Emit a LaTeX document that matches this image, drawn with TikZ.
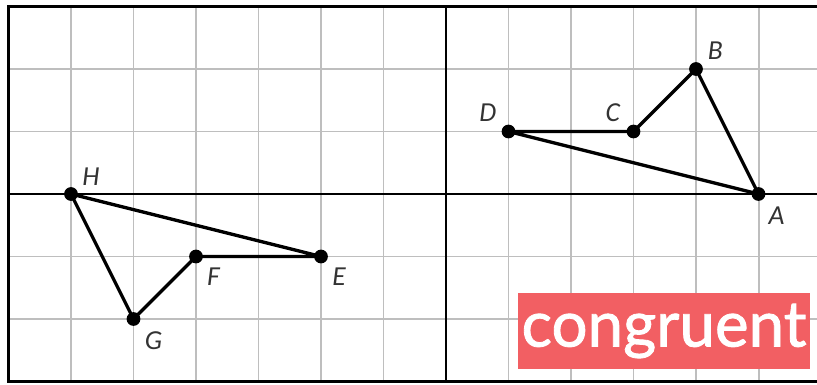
\documentclass[tikz,border=0pt]{standalone}
\usepackage{fontspec}
\usepackage{tikz}
\usetikzlibrary{calc,positioning}
\newfontfamily\ptfont{Carlito}
\newfontfamily\tagfont[FakeBold=1.3]{Lato}
\definecolor{tagred}{HTML}{F25F63}
\definecolor{gridgray}{HTML}{BEBEBE}
\tikzset{
  gridline/.style={draw=gridgray, line width=0.9pt},
  axis/.style={draw=black, line width=1.1pt},
  frame/.style={draw=black, line width=1.3pt},
  side/.style={line width=1.5pt, line join=round},
  pt/.style={
    circle,
    fill=black,
    minimum size=2.2mm,
    inner sep=0pt,
  },
  ptlabel/.style={
    font=\ptfont\itshape\fontsize{12.5}{12.5}\selectfont,
    text=black!80,
    inner sep=0pt,
  },
  tag/.style={
    fill=tagred,
    text=white,
    minimum width=4.67cm,
    minimum height=1.216cm,
    inner sep=0pt,
    font=\tagfont\fontsize{29}{29}\selectfont,
  },
}
\begin{document}
\begin{tikzpicture}
  \useasboundingbox (-7.136,-3.056) rectangle (5.936,3.104);
  \clip (-7.136,-3.056) rectangle (5.936,3.104);
  \draw[gridline] (-7,-3) grid (6,3);
  \draw[axis] (-7,0) -- (6,0);
  \draw[axis] (0,-3) -- (0,3);
  \draw[frame] (-7,-3) rectangle (6,3);
  % vertices
  \foreach \n/\x/\y/\dx/\dy in {A/5/0/0.29/-0.34, B/4/2/0.31/0.3, C/3/1/-0.33/0.3, D/1/1/-0.33/0.3,
                              E/-2/-1/0.29/-0.33, F/-4/-1/0.28/-0.32, G/-5/-2/0.32/-0.34, H/-6/0/0.32/0.28} {
    \node[pt] (\n) at (\x,\y) {};
    \node[ptlabel] (lab\n) at ($(\n)+(\dx,\dy)$) {\n};
  }
  \draw[side] (A.center) -- (B.center) -- (C.center) -- (D.center) -- cycle;
  \draw[side] (E.center) -- (F.center) -- (G.center) -- (H.center) -- cycle;
  \node[tag] (cong) at (3.488,-2.192) {congruent};
\end{tikzpicture}
\end{document}
